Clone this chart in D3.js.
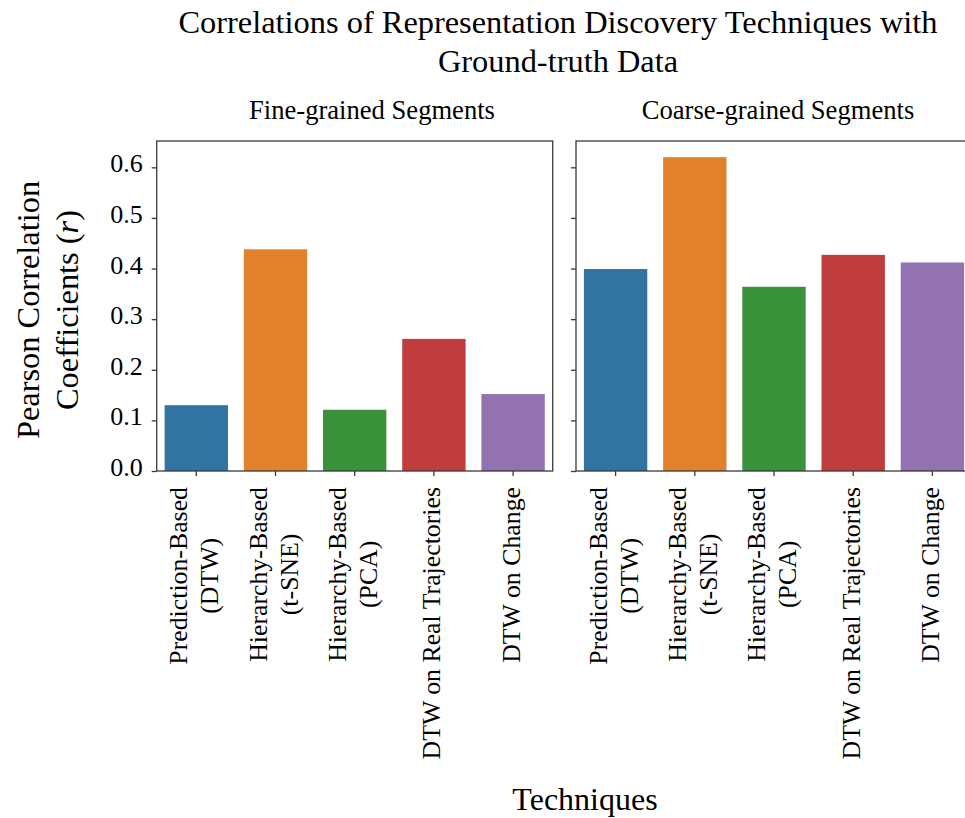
<!DOCTYPE html>
<html><head><meta charset="utf-8">
<script src="https://cdn.jsdelivr.net/npm/d3@7"></script>
<style>
body{margin:0;background:#fff}
svg{display:block}
text{font-family:"Liberation Serif","Times New Roman",serif;fill:#000}
</style>
</head><body><svg id="c" width="965" height="818"></svg>
<script>
// ---- data ----
const categories = ["Prediction-Based\n(DTW)", "Hierarchy-Based\n(t-SNE)", "Hierarchy-Based\n(PCA)", "DTW on Real Trajectories", "DTW on Change"];
const fineValues = [0.130, 0.438, 0.121, 0.261, 0.152];
const coarseValues = [0.399, 0.620, 0.364, 0.427, 0.412];
const panelTitles = ["Fine-grained Segments", "Coarse-grained Segments"];
const yTicks = [0.0, 0.1, 0.2, 0.3, 0.4, 0.5, 0.6];
const colors = ["#3274a1", "#e1812c", "#3a923a", "#c03d3e", "#9372b2"];
const titleLines = ["Correlations of Representation Discovery Techniques with", "Ground-truth Data"];
const yLabelLines = ["Pearson Correlation", "Coefficients (r)"];
const xLabel = "Techniques";

// ---- layout ----
const svg = d3.select("#c");
const plotTop = 141, plotBottom = 471, pw = 396;
const panels = [
  {x0: 156.7, values: fineValues, title: panelTitles[0], titleX: 372, showY: true},
  {x0: 576, values: coarseValues, title: panelTitles[1], titleX: 778, showY: false}
];
const y = d3.scaleLinear().domain([0, 0.652]).range([plotBottom, plotTop]);
const axisColor = "#3a3a3a";

panels.forEach(p => {
  const x = d3.scaleBand().domain(categories).range([p.x0, p.x0 + pw]).paddingInner(0.2).paddingOuter(0.1);
  const g = svg.append("g");
  g.selectAll("rect.bar").data(p.values).join("rect")
    .attr("class", "bar")
    .attr("x", (d, i) => x(categories[i]))
    .attr("width", x.bandwidth())
    .attr("y", d => y(d))
    .attr("height", d => y(0) - y(d))
    .attr("fill", (d, i) => colors[i]);

  // frame
  g.append("rect").attr("x", p.x0).attr("y", plotTop).attr("width", pw).attr("height", plotBottom - plotTop)
    .attr("fill", "none").attr("stroke", axisColor).attr("stroke-width", 1.3);

  // y axis
  const ya = g.append("g").attr("transform", `translate(${p.x0},0)`)
    .call(d3.axisLeft(y).tickValues(yTicks).tickSize(5).tickFormat(""));
  ya.select(".domain").remove();
  ya.selectAll(".tick line").attr("stroke", axisColor).attr("stroke-width", 1.3);
  if (p.showY) {
    ya.selectAll(".tick").append("text")
      .attr("x", -14).attr("y", 4.5)
      .attr("text-anchor", "end")
      .style("font-size", "26px")
      .text(d => d3.format(".1f")(d));
  }

  // x axis
  const xa = g.append("g").attr("transform", `translate(0,${plotBottom})`)
    .call(d3.axisBottom(x).tickSize(5).tickFormat(""));
  xa.select(".domain").remove();
  xa.selectAll(".tick line").attr("stroke", axisColor).attr("stroke-width", 1.3);
  xa.selectAll(".tick").each(function(d) {
    const lines = d.split("\n");
    const lg = d3.select(this).append("g").attr("transform", "translate(0,16) rotate(-90)");
    const texts = lines.map((ln, i) => lg.append("text")
      .style("font-size", "25.8px")
      .attr("text-anchor", "middle")
      .attr("y", 6.5 + (i - (lines.length - 1) / 2) * 31)
      .text(ln));
    const maxLen = d3.max(texts, t => t.node().getComputedTextLength());
    texts.forEach(t => t.attr("x", -maxLen / 2));
  });

  // panel title
  svg.append("text").attr("x", p.titleX).attr("y", 119)
    .attr("text-anchor", "middle").style("font-size", "26.6px").text(p.title);
});

// main title
titleLines.forEach((t, i) => {
  svg.append("text").attr("x", 558).attr("y", 33 + i * 38.5)
    .attr("text-anchor", "middle").style("font-size", "32.4px").text(t);
});

// y label
const yl = svg.append("g").attr("transform", "translate(0,310) rotate(-90)");
yLabelLines.forEach((t, i) => {
  const tx = yl.append("text").attr("x", 0).attr("y", 39 + i * 38.5)
    .attr("text-anchor", "middle").style("font-size", "32.4px");
  if (t.endsWith("(r)")) {
    tx.append("tspan").text(t.slice(0, -3) + "(");
    tx.append("tspan").style("font-style", "italic").text("r");
    tx.append("tspan").text(")");
  } else tx.text(t);
});

// x label
svg.append("text").attr("x", 585).attr("y", 810)
  .attr("text-anchor", "middle").style("font-size", "32px").text(xLabel);
</script>
</body></html>
